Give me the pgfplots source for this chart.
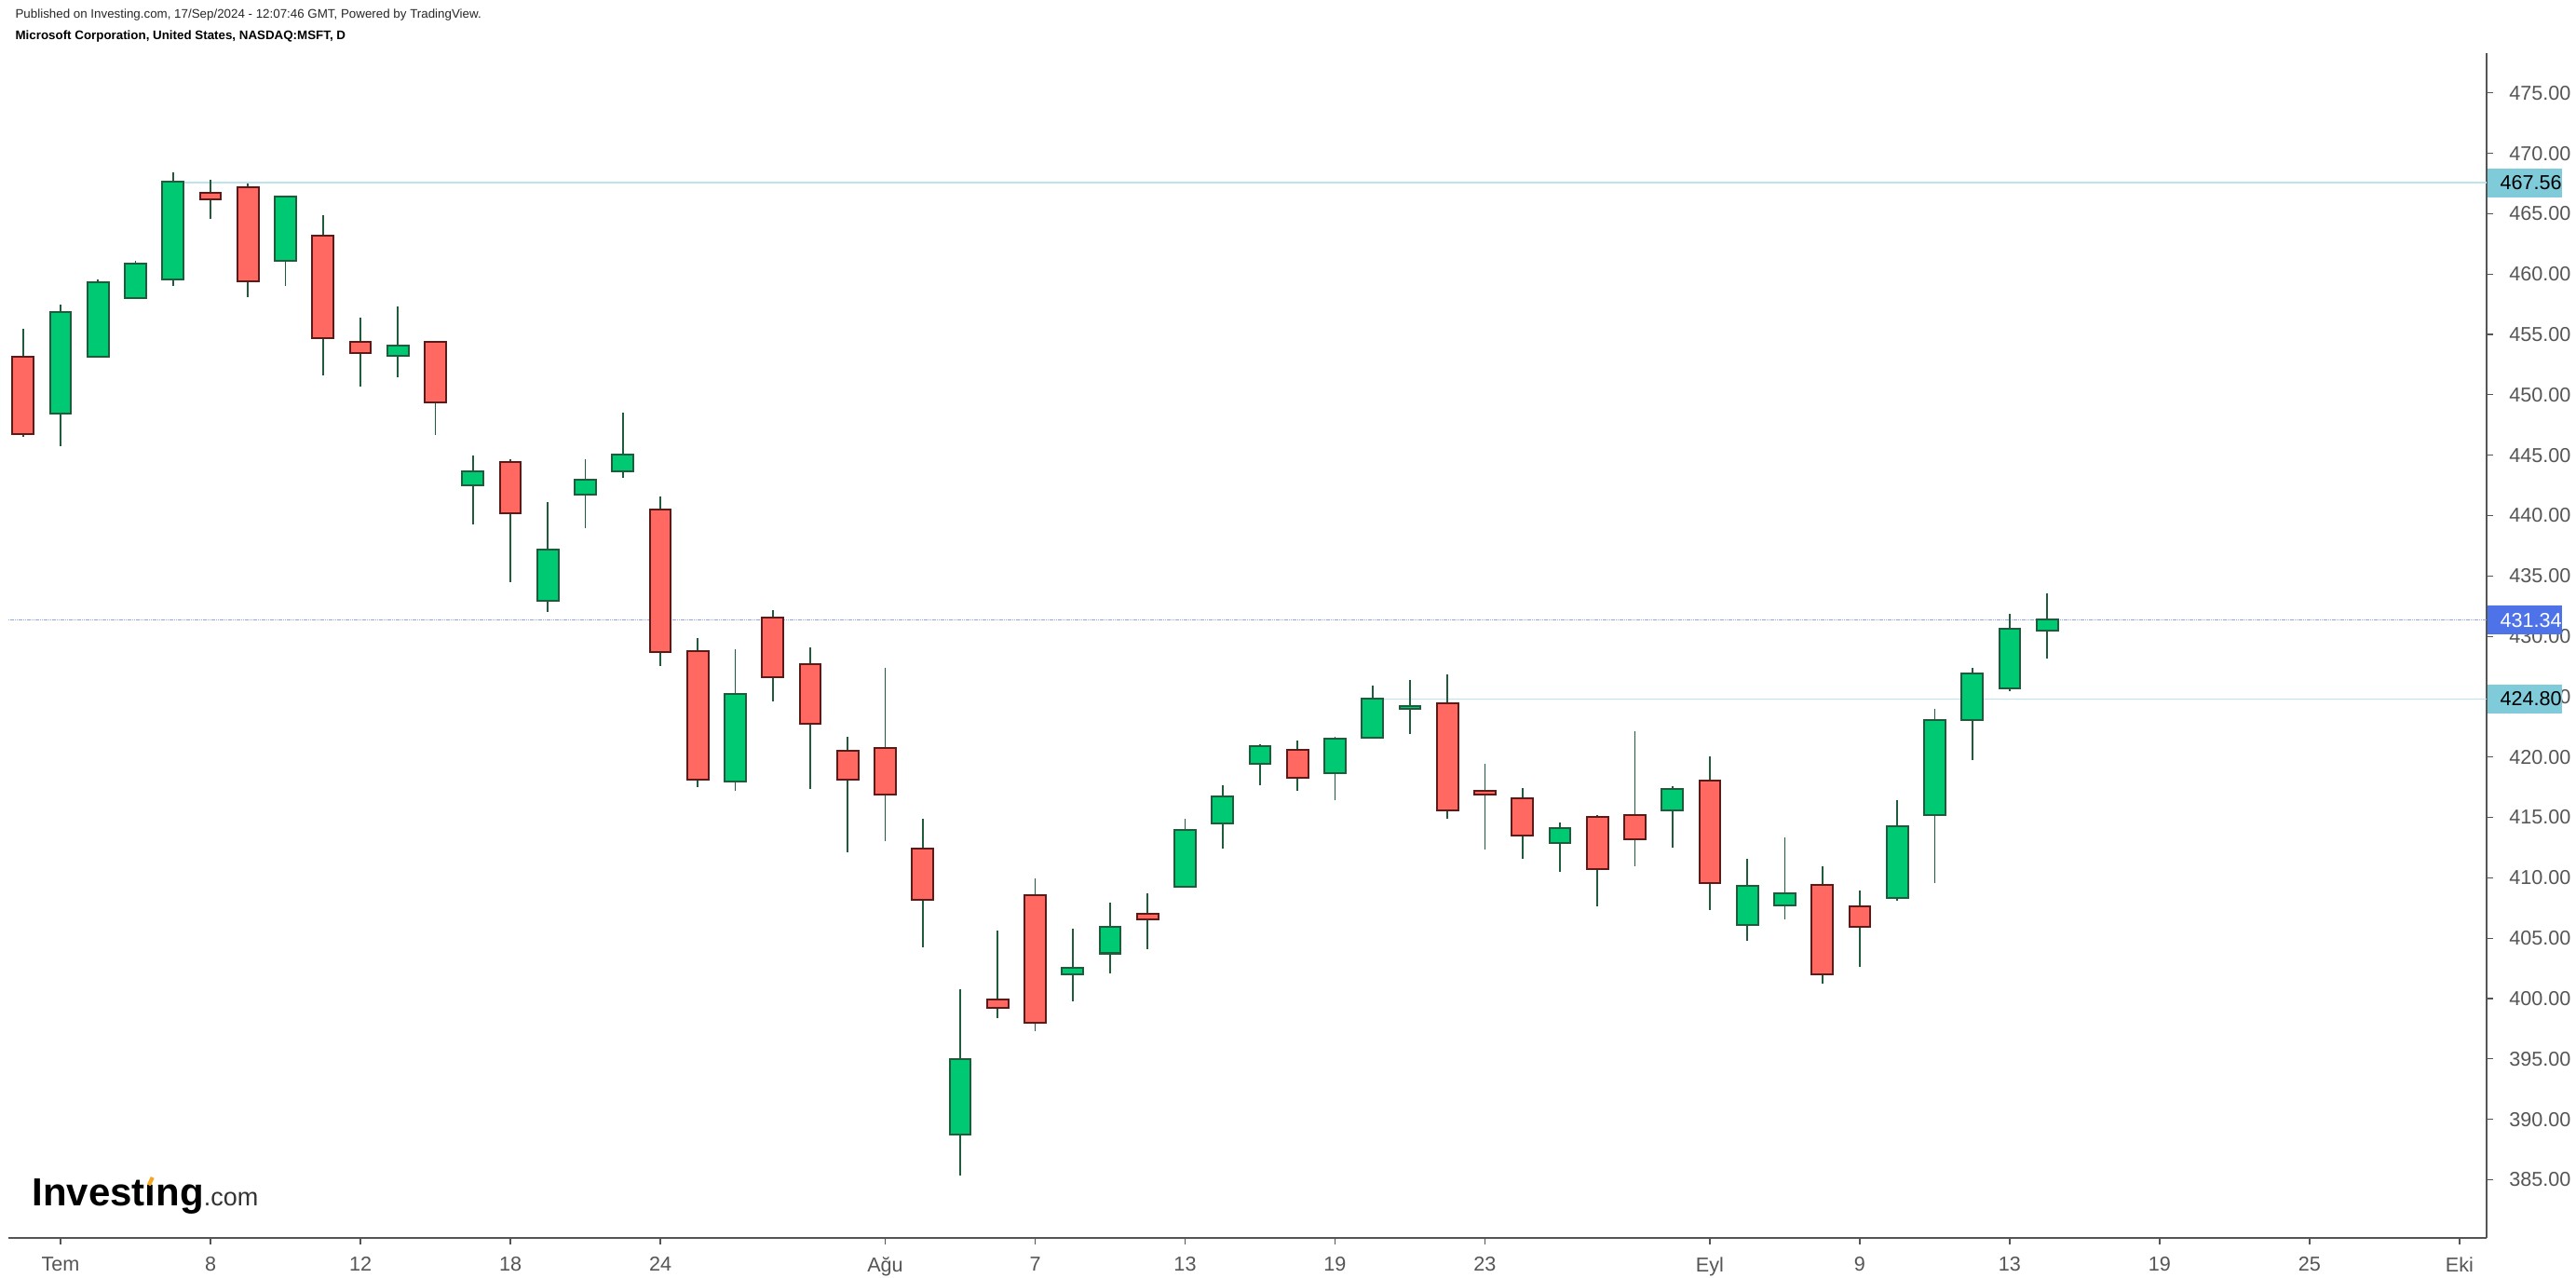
\documentclass[border=0pt]{standalone}
\usepackage{fontspec}
\setmainfont{Liberation Sans}
\usepackage{pgfplots}
\pgfplotsset{compat=1.18}
\usepackage{pgfplotstable}
\definecolor{gfill}{HTML}{00C974}
\definecolor{gline}{HTML}{1E5C3C}
\definecolor{rfill}{HTML}{FF6961}
\definecolor{rline}{HTML}{5C1A18}
\definecolor{axgray}{HTML}{555555}
\definecolor{tealbox}{HTML}{7FCBD9}
\definecolor{tealline}{HTML}{BEE4EB}
\definecolor{bluebox}{HTML}{4E73E8}
\definecolor{blueline}{HTML}{90A6F0}
\definecolor{logoorange}{HTML}{F5A623}

% x = trading-day index (0 = 28 Jun 2024), o h l c
\pgfplotstableread{
x o h l c
1 448.55 457.44 445.76 456.78
2 453.20 459.57 453.20 459.25
3 458.11 461.13 457.95 460.79
4 459.65 468.41 458.98 467.56
7 461.19 466.52 458.98 466.34
10 453.33 457.28 451.47 453.99
12 442.55 444.97 439.28 443.56
14 432.99 441.12 432.03 437.08
15 441.78 444.65 438.97 442.92
16 443.77 448.50 443.13 444.94
19 418.02 428.92 417.22 425.18
25 388.81 400.81 385.38 394.88
28 402.12 405.75 399.75 402.45
29 403.82 407.91 402.07 405.85
31 409.35 414.87 409.35 413.89
32 414.61 417.65 412.39 416.67
33 419.55 421.04 417.65 420.84
35 418.78 421.66 416.41 421.46
36 421.67 425.94 421.67 424.80
37 424.05 426.39 421.87 424.14
41 412.96 414.57 410.51 414.07
44 415.68 417.60 412.48 417.25
46 406.16 411.54 404.75 409.22
47 407.83 413.36 406.57 408.61
50 408.43 416.40 408.08 414.20
51 415.27 423.99 409.54 423.01
52 423.14 427.38 419.72 426.86
53 425.76 431.85 425.43 430.56
54 430.54 433.55 428.17 431.34
}\greentab

\pgfplotstableread{
x o h l c
0 453.09 455.45 446.53 446.85
5 466.66 467.77 464.56 466.28
6 467.11 467.48 458.08 459.51
8 463.10 464.85 451.60 454.74
9 454.31 456.38 450.70 453.51
11 454.34 454.34 446.69 449.48
13 444.33 444.65 434.50 440.24
17 440.44 441.56 427.55 428.81
18 428.70 429.83 417.52 418.21
20 431.49 432.15 424.60 426.67
21 427.63 429.06 417.38 422.81
22 420.41 421.65 412.12 418.21
23 420.69 427.38 413.04 416.95
24 412.37 414.87 404.23 408.27
26 399.83 405.60 398.36 399.34
27 408.48 409.92 397.28 398.10
30 406.93 408.68 404.08 406.60
34 420.53 421.35 417.18 418.34
38 424.37 426.85 414.88 415.68
39 417.15 419.42 412.32 416.94
40 416.49 417.45 411.57 413.56
42 414.98 415.18 407.63 410.83
43 415.13 422.15 410.96 413.28
45 418.01 420.03 407.33 409.65
48 409.37 410.94 401.26 402.07
49 407.56 408.97 402.63 406.01
}\redtab

\begin{document}
\begin{tikzpicture}
\useasboundingbox (0pt,0pt) rectangle (922pt,457.33pt);
\node[anchor=west, inner sep=0pt, font=\fontsize{4.45}{5.3}\selectfont, text=black!85] at (5.33pt,452pt)
  {Published on Investing.com, 17/Sep/2024 - 12:07:46 GMT, Powered by TradingView.};
\node[anchor=west, inner sep=0pt, font=\fontsize{4.45}{5.3}\selectfont\bfseries, text=black] at (5.33pt,444.33pt)
  {Microsoft Corporation, United States, NASDAQ:MSFT, D};
\begin{axis}[
  at={(2.97pt,14.43pt)}, anchor=south west,
  scale only axis, width=887.0pt, height=423.9pt,
  xmin=-0.395, xmax=65.72, ymin=380.2, ymax=478.3,
  axis x line*=bottom, axis y line*=right,
  axis line style={draw=axgray, line width=0.67pt},
  xtick pos=lower, ytick pos=upper,
  xticklabel pos=lower, yticklabel pos=upper,
  tick align=outside,
  major tick length=2.3pt,
  tick style={draw=axgray, line width=0.4pt},
  ytick={385,390,...,475},
  xtick={1,5,9,13,17,23,27,31,35,39,45,49,53,57,61,65},
  xticklabels={Tem,8,12,18,24,Ağu,7,13,19,23,Eyl,9,13,19,25,Eki},
  ticklabel style={font=\fontsize{7.2}{8.5}\selectfont, text=axgray},
  yticklabel style={xshift=2.3pt, /pgf/number format/.cd, fixed, fixed zerofill, precision=2, 1000 sep={}, assume math mode=true},
  xticklabel style={yshift=-1.2pt},
  clip=false,
]
% price lines
\addplot[draw=tealline, line width=0.5pt, no markers] coordinates {(4.3,467.56) (65.72,467.56)};
\addplot[draw=tealline, line width=0.5pt, no markers] coordinates {(36.3,424.80) (65.72,424.80)};
\addplot[draw=blueline, line width=0.45pt, no markers, dash pattern=on 0.5pt off 0.25pt] coordinates {(-0.395,431.34) (65.72,431.34)};
% wicks
\addplot[draw=none, no markers, error bars/.cd, y dir=both, y explicit, error mark=none,
  error bar style={draw=gline, line width=0.6pt}]
  table[x=x, y=c, y error plus expr=\thisrow{h}-\thisrow{c}, y error minus expr=\thisrow{c}-\thisrow{l}] {\greentab};
\addplot[draw=none, no markers, error bars/.cd, y dir=both, y explicit, error mark=none,
  error bar style={draw=gline, line width=0.6pt}]
  table[x=x, y=c, y error plus expr=\thisrow{h}-\thisrow{c}, y error minus expr=\thisrow{c}-\thisrow{l}] {\redtab};
% bodies: border
\addplot[draw=none, no markers, error bars/.cd, y dir=plus, y explicit, error mark=none,
  error bar style={draw=gline, line width=8.27pt, shorten <=-0.67pt, shorten >=-0.67pt}]
  table[x=x, y=o, y error plus expr=\thisrow{c}-\thisrow{o}] {\greentab};
\addplot[draw=none, no markers, error bars/.cd, y dir=plus, y explicit, error mark=none,
  error bar style={draw=rline, line width=8.27pt, shorten <=-0.67pt, shorten >=-0.67pt}]
  table[x=x, y=c, y error plus expr=\thisrow{o}-\thisrow{c}] {\redtab};
% bodies: fill
\addplot[draw=none, no markers, error bars/.cd, y dir=plus, y explicit, error mark=none,
  error bar style={draw=gfill, line width=6.93pt}]
  table[x=x, y=o, y error plus expr=\thisrow{c}-\thisrow{o}] {\greentab};
\addplot[draw=none, no markers, error bars/.cd, y dir=plus, y explicit, error mark=none,
  error bar style={draw=rfill, line width=6.93pt}]
  table[x=x, y=c, y error plus expr=\thisrow{o}-\thisrow{c}] {\redtab};
% price labels
\node[anchor=west, fill=tealbox, inner xsep=0pt, inner ysep=0pt, minimum height=10.4pt,
  font=\fontsize{7.2}{8.5}\selectfont, text=black] at (axis cs:65.72,467.56) {\hspace{4.67pt}467.56\hspace{3.3pt}};
\node[anchor=west, fill=bluebox, inner xsep=0pt, inner ysep=0pt, minimum height=10.4pt,
  font=\fontsize{7.2}{8.5}\selectfont, text=white] at (axis cs:65.72,431.34) {\hspace{4.67pt}431.34\hspace{3.3pt}};
\node[anchor=west, fill=tealbox, inner xsep=0pt, inner ysep=0pt, minimum height=10.4pt,
  font=\fontsize{7.2}{8.5}\selectfont, text=black] at (axis cs:65.72,424.80) {\hspace{4.67pt}424.80\hspace{3.3pt}};
\end{axis}
\node[anchor=base west, inner sep=0pt] at (11.33pt,25.67pt)
  {\fontsize{14}{16}\selectfont\bfseries Invest\ooalign{\i\cr\hidewidth\raisebox{0.56em}{\textcolor{logoorange}{\rotatebox{-25}{\rule{0.1em}{0.22em}}}}\hidewidth\cr}ng{\fontsize{9}{10}\selectfont\mdseries\color{black!80}.com}};
\end{tikzpicture}
\end{document}
